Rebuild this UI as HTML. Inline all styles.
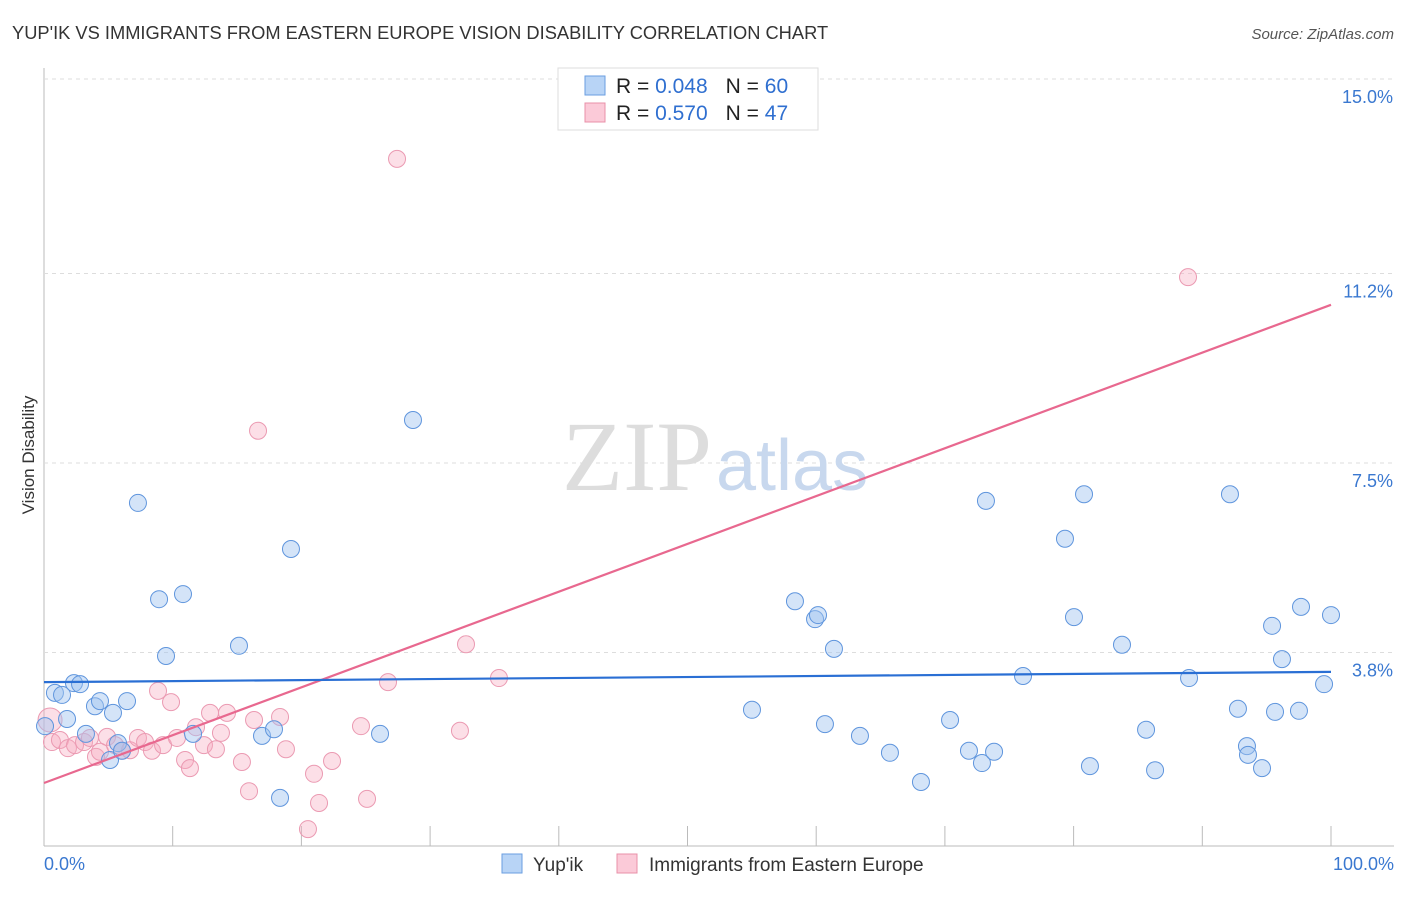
<!DOCTYPE html>
<html><head><meta charset="utf-8"><style>
body{margin:0;background:#fff;font-family:"Liberation Sans",sans-serif;}
</style></head><body>
<svg id="c" width="1406" height="892" xmlns="http://www.w3.org/2000/svg" style="font-family:'Liberation Sans',sans-serif">
<text x="12" y="39" font-size="18.3" fill="#333">YUP'IK VS IMMIGRANTS FROM EASTERN EUROPE VISION DISABILITY CORRELATION CHART</text>
<text x="1394" y="39" font-size="15" fill="#555" font-style="italic" text-anchor="end">Source: ZipAtlas.com</text>
<text x="34" y="455" font-size="17" fill="#333" text-anchor="middle" transform="rotate(-90 34 455)">Vision Disability</text>
<g id="grid"></g>
<text x="712" y="490" font-size="100" fill="#ddd" text-anchor="end" font-family="Liberation Serif">ZIP</text>
<text x="716" y="490" font-size="72" fill="#c8d8ee">atlas</text>
<g id="pts"></g>
<g id="lines"></g>
<g>
<rect x="558" y="68" width="260" height="62" fill="#fff" stroke="#ddd"/>
<rect x="585" y="76" width="20" height="19" fill="#b8d4f6" stroke="#6a9ee0"/>
<rect x="585" y="103" width="20" height="19" fill="#fbcad8" stroke="#e890a8"/>
<text x="616" y="93" font-size="21" fill="#222">R = <tspan fill="#2f6fd0">0.048</tspan><tspan dx="18">N = </tspan><tspan fill="#2f6fd0">60</tspan></text>
<text x="616" y="120" font-size="21" fill="#222">R = <tspan fill="#2f6fd0"> 0.570</tspan><tspan dx="18">N = </tspan><tspan fill="#2f6fd0"> 47</tspan></text>
</g>
<text x="44" y="870" font-size="18" fill="#3a78d0">0.0%</text>
<text x="1394" y="870" font-size="18" fill="#3a78d0" text-anchor="end">100.0%</text>
<rect x="502" y="854" width="20" height="19" fill="#b8d4f6" stroke="#6a9ee0"/>
<text x="533" y="871" font-size="19" fill="#333">Yup'ik</text>
<rect x="617" y="854" width="20" height="19" fill="#fbcad8" stroke="#e890a8"/>
<text x="649" y="871" font-size="19" fill="#333">Immigrants from Eastern Europe</text>
</svg>
<script>
const yTicks=[3.8,7.5,11.2,15.0];
const yTickLabels=["3.8%","7.5%","11.2%","15.0%"];
const blueX=[0.85,1.40,2.33,2.80,1.79,3.96,4.35,5.36,6.45,0.08,3.26,5.13,5.75,6.06,7.30,8.94,9.48,10.80,11.58,15.15,16.94,17.87,18.34,19.19,26.11,28.67,55.01,58.35,59.91,60.14,60.68,61.38,63.40,65.73,68.14,70.40,71.87,72.88,73.19,73.82,76.07,79.33,80.03,80.81,81.27,83.76,85.63,86.33,88.97,92.15,92.77,93.47,93.55,94.64,95.42,95.65,96.19,97.51,97.67,99.46,100.0];
const blueY=[3.01,2.97,3.20,3.18,2.50,2.75,2.85,2.62,2.85,2.36,2.21,1.70,2.03,1.88,6.72,4.84,3.73,4.94,2.21,3.93,2.17,2.30,0.96,5.82,2.21,8.34,2.68,4.80,4.45,4.53,2.40,3.87,2.17,1.84,1.27,2.48,1.88,1.64,6.76,1.86,3.34,6.02,4.49,6.89,1.58,3.95,2.29,1.50,3.30,6.89,2.70,1.97,1.80,1.54,4.32,2.64,3.67,2.66,4.69,3.18,4.53];
const pinkX=[0.47,0.62,1.24,1.86,2.41,3.11,3.57,4.04,4.35,4.90,5.52,6.06,6.68,7.30,7.85,8.39,8.86,9.25,9.87,10.33,10.96,11.34,11.81,12.43,12.90,13.36,13.75,14.22,15.38,15.93,16.32,16.63,18.34,18.80,20.98,21.37,20.51,22.38,24.63,25.10,26.73,27.43,32.32,32.79,35.35,88.89];
const pinkY=[2.48,2.05,2.09,1.93,1.99,2.05,2.13,1.76,1.86,2.15,1.99,1.88,1.89,2.13,2.05,1.88,3.05,1.99,2.83,2.13,1.70,1.54,2.34,1.99,2.62,1.91,2.23,2.62,1.66,1.09,2.48,8.13,2.54,1.91,1.43,0.86,0.35,1.68,2.36,0.94,3.22,13.44,2.27,3.96,3.30,11.13];
const blueTrend=[3.22,3.42];
const pinkTrend=[1.25,10.59];
const NS="http://www.w3.org/2000/svg";
const xs=v=>44+v*12.87;
const ys=v=>847-v*51.2;
function mk(tag,attrs,parent){const e=document.createElementNS(NS,tag);for(const k in attrs)e.setAttribute(k,attrs[k]);parent.appendChild(e);return e;}
const grid=document.getElementById('grid');
let ax=mk('line',{x1:44,y1:68,x2:44,y2:846,stroke:'#bbb'},grid);


let bx=mk('line',{x1:44,y1:846,x2:1394,y2:846,stroke:'#bbb'},grid);


for(let i=0;i<=10;i++){const t=mk('line',{x1:xs(i*10),y1:826,x2:xs(i*10),y2:846,stroke:'#bbb'},grid);

}
yTicks.forEach((v,i)=>{const g=mk('line',{x1:44,y1:ys(v),x2:1394,y2:ys(v),stroke:'#ddd','stroke-dasharray':'4,4'},grid);


const t=mk('text',{x:1393,y:ys(v)+24,'font-size':18,fill:'#3a78d0','text-anchor':'end'},grid);t.textContent=yTickLabels[i];

});
const pts=document.getElementById('pts');
pinkX.forEach((x,i)=>{const c=mk('circle',{cx:xs(x),cy:ys(pinkY[i]),r:i==0?12:8.5,fill:'rgba(246,170,192,0.38)',stroke:'#eb9ab2','stroke-width':1},pts);

});
blueX.forEach((x,i)=>{const c=mk('circle',{cx:xs(x),cy:ys(blueY[i]),r:8.5,fill:'rgba(160,196,240,0.45)',stroke:'#5f95dd','stroke-width':1},pts);

});
const lines=document.getElementById('lines');
let l1=mk('line',{x1:xs(0),y1:ys(pinkTrend[0]),x2:xs(100),y2:ys(pinkTrend[1]),stroke:'#e8688f','stroke-width':2.2},lines);


let l2=mk('line',{x1:xs(0),y1:ys(blueTrend[0]),x2:xs(100),y2:ys(blueTrend[1]),stroke:'#2a6fd4','stroke-width':2.2},lines);


</script>
</body></html>
